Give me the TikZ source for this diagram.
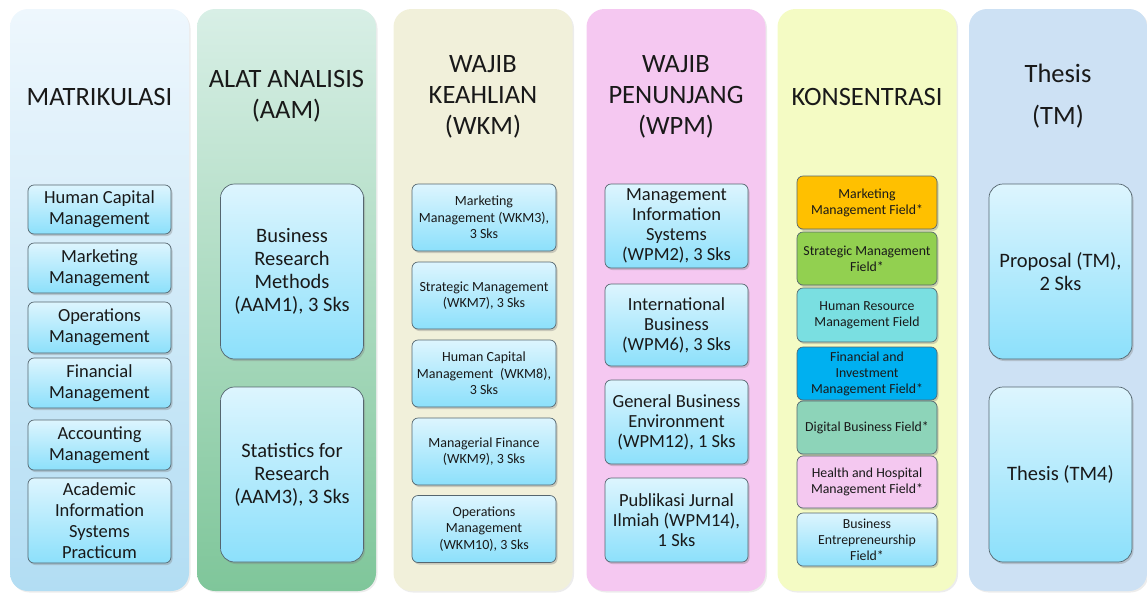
\documentclass[tikz,border=0pt]{standalone}
\usepackage{fontspec}
\setmainfont{Carlito}
\usepackage{tikz}
\usetikzlibrary{shadows}

\definecolor{mattop}{HTML}{EEF7FD}
\definecolor{matbot}{HTML}{B2DDF3}
\definecolor{aamtop}{HTML}{D8EFE6}
\definecolor{aambot}{HTML}{7FC69A}
\definecolor{wkmfill}{HTML}{F1F0DA}
\definecolor{wpmfill}{HTML}{F5C8F1}
\definecolor{konfill}{HTML}{F4FBC4}
\definecolor{tmfill}{HTML}{CDE1F4}
\definecolor{boxtop}{HTML}{DDF5FE}
\definecolor{boxbot}{HTML}{8CE0FB}
\definecolor{boxline}{HTML}{55666F}
\definecolor{fldorange}{HTML}{FFC000}
\definecolor{fldgreen}{HTML}{92D050}
\definecolor{fldturq}{HTML}{7ADFE1}
\definecolor{fldblue}{HTML}{00B0F0}
\definecolor{fldsea}{HTML}{8DD4B9}
\definecolor{fldpink}{HTML}{F4C8F0}

\begin{document}
\begin{tikzpicture}[x=1pt,y=-1pt,
  colbox/.style={rounded corners=18pt, minimum width=179pt, minimum height=582pt, inner sep=0pt,
    drop shadow={shadow xshift=1.5pt, shadow yshift=-1.5pt, opacity=0.15}},
  coltitle/.style={align=center, text=black!90, font=\fontsize{26.5}{31}\selectfont},
  plainbox/.style={draw=boxline, line width=0.7pt, rounded corners=6pt,
    align=center, inner sep=0pt, text=black!90,
    drop shadow={shadow xshift=1.5pt, shadow yshift=-2pt, opacity=0.35}},
  subj/.style={plainbox, top color=boxtop, bottom color=boxbot},
  bigsubj/.style={subj, rounded corners=14pt, minimum width=143pt, minimum height=175pt,
    font=\fontsize{20.5}{23}\selectfont},
  field/.style={plainbox, minimum width=140pt, font=\fontsize{13.8}{16}\selectfont}
]
\useasboundingbox (0,0) rectangle (1147,592);
\coordinate (c1) at (99.5,300);
\coordinate (c2) at (286.5,300);
\coordinate (c3) at (483,300);
\coordinate (c4) at (676,300);
\coordinate (c5) at (867,300);
\coordinate (c6) at (1058,300);
% draws columns
\node[colbox, top color=mattop, bottom color=matbot] (mat) at (c1) {};
\node[colbox, top color=aamtop, bottom color=aambot] (aam) at (c2) {};
\node[colbox, fill=wkmfill] (wkm) at (c3) {};
\node[colbox, fill=wpmfill] (wpm) at (c4) {};
\node[colbox, fill=konfill] (kon) at (c5) {};
\node[colbox, fill=tmfill, minimum width=178pt] (tm) at (c6) {};
% column titles
\node[coltitle] (tmat) at (99.5,97) {MATRIKULASI};
\node[coltitle] (taam) at (286.5,96) {ALAT ANALISIS\\(AAM)};
\node[coltitle] (twkm) at (483,97) {WAJIB\\KEAHLIAN\\(WKM)};
\node[coltitle] (twpm) at (676,97) {WAJIB\\PENUNJANG\\(WPM)};
\node[coltitle] (tkon) at (867,97) {KONSENTRASI};
\node[coltitle] (ttm) at (1058,96) {Thesis\\[11pt](TM)};
% matrikulasi
\begin{scope}[every node/.style={subj, minimum width=143pt, font=\fontsize{18.5}{21}\selectfont}]
\node[minimum height=49pt] (mat1) at (99.5,209.5) {Human Capital\\Management};
\node[minimum height=50pt] (mat2) at (99.5,268) {Marketing\\Management};
\node[minimum height=51pt] (mat3) at (99.5,327.5) {Operations\\Management};
\node[minimum height=50pt] (mat4) at (99.5,383) {Financial\\Management};
\node[minimum height=50pt] (mat5) at (99.5,445) {Accounting\\Management};
\node[minimum height=85pt] (mat6) at (99.5,520.5) {Academic\\Information\\Systems\\Practicum};
\end{scope}
% alat analisis
\node[bigsubj] (aam1) at (292,271.5) {Business\\Research\\Methods\\(AAM1), 3 Sks};
\node[bigsubj] (aam3) at (292,474.5) {Statistics for\\Research\\(AAM3), 3 Sks};
% wajib keahlian
\begin{scope}[every node/.style={subj, minimum width=144pt, minimum height=67pt, font=\fontsize{14}{16.5}\selectfont}]
\node (wkm3) at (484,217.5) {Marketing\\Management (WKM3),\\3 Sks};
\node (wkm7) at (484,295.5) {Strategic Management\\(WKM7), 3 Sks};
\node (wkm8) at (484,373.5) {Human Capital\\Management\enspace(WKM8),\\3 Sks};
\node (wkm9) at (484,451.5) {Managerial Finance\\(WKM9), 3 Sks};
\node (wkm10) at (484,529) {Operations\\Management\\(WKM10), 3 Sks};
\end{scope}
% wajib penunjang
\begin{scope}[every node/.style={subj, minimum width=143pt, minimum height=84pt, font=\fontsize{18.5}{20}\selectfont}]
\node (wpm2) at (676.5,226) {Management\\Information\\Systems\\(WPM2), 3 Sks};
\node[minimum height=82pt] (wpm6) at (676.5,325) {International\\Business\\(WPM6), 3 Sks};
\node (wpm12) at (676.5,422) {General Business\\Environment\\(WPM12), 1 Sks};
\node (wpm14) at (676.5,520) {Publikasi Jurnal\\Ilmiah (WPM14),\\1 Sks};
\end{scope}
% konsentrasi
\node[field, minimum height=53pt, fill=fldorange] (kon1) at (867,202.5) {Marketing\\Management Field*};
\node[field, minimum height=53pt, fill=fldgreen] (kon2) at (867,258.5) {Strategic Management\\Field*};
\node[field, minimum height=54pt, fill=fldturq] (kon3) at (867,315) {Human Resource\\Management Field};
\node[field, minimum height=53pt, fill=fldblue] (kon4) at (867,373.5) {Financial and\\Investment\\Management Field*};
\node[field, minimum height=53pt, fill=fldsea] (kon5) at (867,427.5) {Digital Business Field*};
\node[field, minimum height=52pt, fill=fldpink] (kon6) at (867,482) {Health and Hospital\\Management Field*};
\node[field, minimum height=53pt, top color=boxtop, bottom color=boxbot] (kon7) at (867,539.5) {Business\\Entrepreneurship\\Field*};
% thesis
\node[bigsubj] (tm1) at (1060.5,271.5) {Proposal (TM),\\2 Sks};
\node[bigsubj] (tm4) at (1060.5,474.5) {Thesis (TM4)};
\end{tikzpicture}
\end{document}
